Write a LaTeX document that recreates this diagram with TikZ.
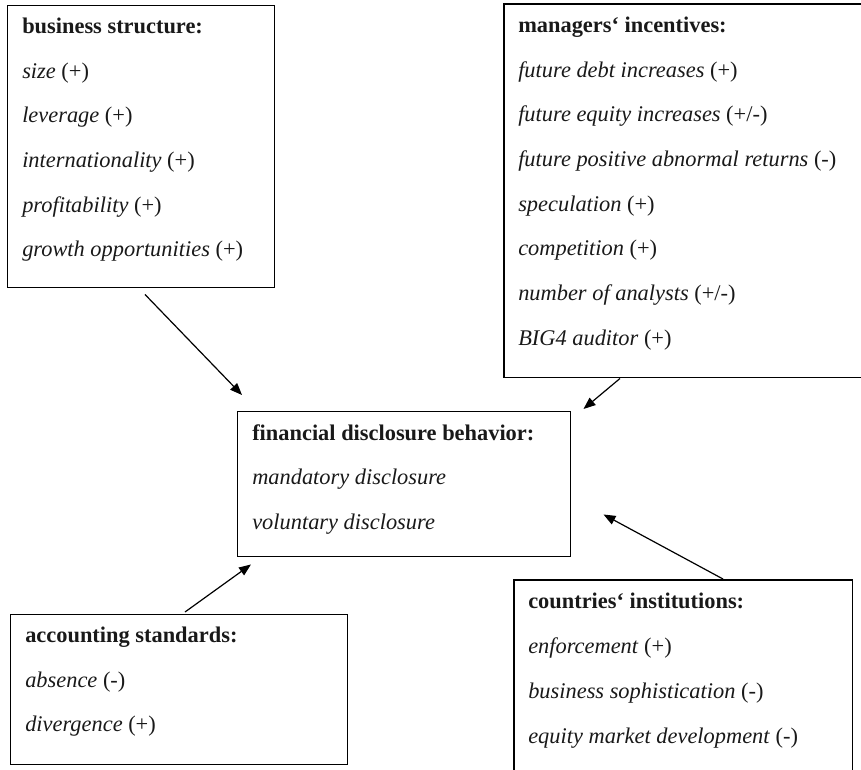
\documentclass[tikz,border=0pt]{standalone}
\usepackage{fontspec}
\setmainfont{Liberation Serif}
\usetikzlibrary{arrows.meta,calc}
\begin{document}
\begin{tikzpicture}[x=0.75pt,y=-0.75pt,
  panel/.style={draw=black,line width=1.1pt,rectangle,inner sep=0pt,anchor=north west},
  edge/.style={line width=1.1pt},
  txt/.style={anchor=base west,inner sep=0pt,font=\fontsize{16.8}{20}\selectfont,text=black!90},
  head/.style={txt,font=\fontsize{16.8}{20}\selectfont\bfseries},
  link/.style={line width=0.9pt,-{Triangle[length=9pt,width=7pt]}}]
\useasboundingbox (0,0) rectangle (861,769);

% panels
\node[panel,minimum width=200.25pt,minimum height=211.5pt] (bstruct) at (7,5) {};
% the managers panel is open to the right edge of the page
\node[panel,draw=none,minimum width=267.75pt,minimum height=279pt] (mgr) at (504,4) {};
\draw[edge] (mgr.north east) -- (mgr.north west) -- (mgr.south west) -- (mgr.south east);
\node[panel,minimum width=249.75pt,minimum height=108.75pt] (fdb) at (237,411) {};
\node[panel,minimum width=252.75pt,minimum height=112.5pt] (acc) at (10,614) {};
% the countries panel is open to the bottom edge of the page
\node[panel,draw=none,minimum width=252.75pt,minimum height=141.75pt] (ctry) at (514,580) {};
\draw[edge] (ctry.south west) -- (ctry.north west) -- (ctry.north east) -- (ctry.south east);

% business structure
\node[head] (bs0) at (22,33) {business structure:};
\node[txt] (bs1) at (22,78) {\textit{size} (+)};
\node[txt] (bs2) at (22,122.5) {\textit{leverage} (+)};
\node[txt] (bs3) at (22,167) {\textit{internationality} (+)};
\node[txt] (bs4) at (22,212) {\textit{profitability} (+)};
\node[txt] (bs5) at (22,256) {\textit{growth opportunities} (+)};

% managers' incentives
\node[head] (mg0) at (518,32) {managers‘ incentives:};
\node[txt] (mg1) at (518,77) {\textit{future debt increases} (+)};
\node[txt] (mg2) at (518,121.5) {\textit{future equity increases} (+/-)};
\node[txt] (mg3) at (518,166) {\textit{future positive abnormal returns} (-)};
\node[txt] (mg4) at (518,211) {\textit{speculation} (+)};
\node[txt] (mg5) at (518,255.5) {\textit{competition} (+)};
\node[txt] (mg6) at (518,300) {\textit{number of analysts} (+/-)};
\node[txt] (mg7) at (518,345) {\textit{BIG4 auditor} (+)};

% financial disclosure behavior
\node[head] (fd0) at (252,440) {financial disclosure behavior:};
\node[txt] (fd1) at (252,484.5) {\textit{mandatory disclosure}};
\node[txt] (fd2) at (252,529) {\textit{voluntary disclosure}};

% accounting standards
\node[head] (ac0) at (25,642) {accounting standards:};
\node[txt] (ac1) at (25,687) {\textit{absence} (-)};
\node[txt] (ac2) at (25,731) {\textit{divergence} (+)};

% countries' institutions
\node[head] (ct0) at (528,608) {countries‘ institutions:};
\node[txt] (ct1) at (528,653) {\textit{enforcement} (+)};
\node[txt] (ct2) at (528,698) {\textit{business sophistication} (-)};
\node[txt] (ct3) at (528,743) {\textit{equity market development} (-)};

% arrow tips near the corners of the central panel
\coordinate (tipbs) at ($(fdb.north west)+(5,-16)$);
\coordinate (tipmg) at ($(fdb.north east)+(12,-2)$);
\coordinate (tipct) at ($(fdb.south east)+(32,-43)$);
\coordinate (tipac) at ($(fdb.south west)+(14,7)$);

% influences
\draw[link] ($(bstruct.south west)+(138,6)$) -- (tipbs);
\draw[link] ($(mgr.south west)+(116,1)$) -- (tipmg);
\draw[link] ($(ctry.north west)+(209,-1)$) -- (tipct);
\draw[link] ($(acc.north west)+(175,-2)$) -- (tipac);
\end{tikzpicture}
\end{document}
